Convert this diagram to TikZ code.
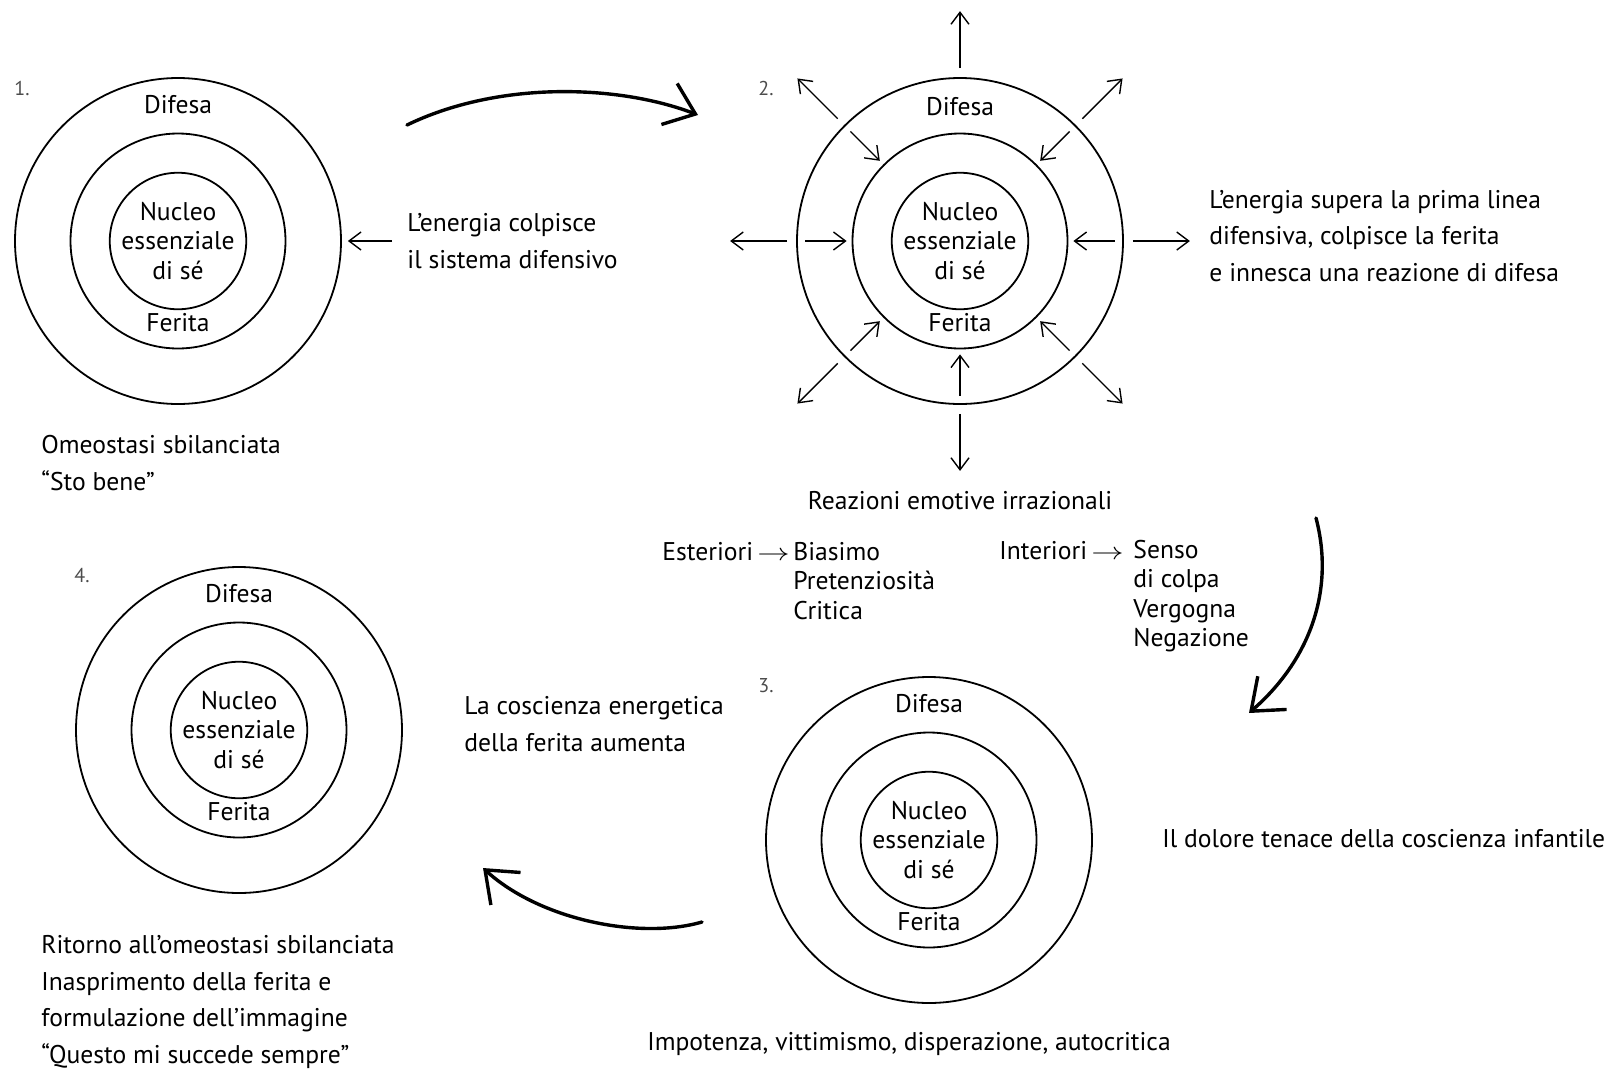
\documentclass[tikz,border=0pt]{standalone}
\usepackage{fontspec}
\usepackage{graphicx}
\setmainfont{PT Sans}
\usetikzlibrary{arrows.meta, positioning}

\begin{document}
\begin{tikzpicture}[
  x=0.5pt, y=-0.5pt,
  font=\fontsize{12.8}{18.4}\selectfont,
  ring/.style={circle, draw, line width=0.9pt, inner sep=0pt},
  outring/.style={ring, minimum size=163pt},
  midring/.style={ring, minimum size=107.5pt},
  corering/.style={ring, minimum size=59pt, align=center, font=\fontsize{12.8}{14.6}\selectfont},
  lbl/.style={inner sep=0pt},
  num/.style={inner sep=0pt, text=black!70, font=\fontsize{10}{11}\selectfont},
  txt/.style={align=left, inner sep=0pt, anchor=west},
  list/.style={txt, font=\fontsize{12.8}{14.6}\selectfont},
  arrow/.style={-{Straight Barb[length=6pt, width=9pt]}, line width=0.7pt},
  bigarrow/.style={-{Straight Barb[length=14pt, width=22pt]}, line width=1.7pt, line cap=round}
]
\useasboundingbox (0,0) rectangle (1608,1072);

% 1
\node[outring] (c1out) at (178,241) {};
\node[midring] (c1mid) at (178,241) {};
\node[corering] (c1core) at (178,241) {Nucleo\\essenziale\\di sé};
\node[lbl] (c1def) at ([yshift=68pt]c1core) {Difesa};
\node[lbl] (c1fer) at ([yshift=-41pt]c1core) {Ferita};
\node[num] (n1) at (22,88) {1.};
\node[txt] (t1) at (41,463) {Omeostasi sbilanciata\\“Sto bene”};

% 2
\node[outring] (c2out) at (960,241) {};
\node[midring] (c2mid) at (960,241) {};
\node[corering] (c2core) at (960,241) {Nucleo\\essenziale\\di sé};
\node[lbl] (c2def) at ([yshift=67pt]c2core) {Difesa};
\node[lbl] (c2fer) at ([yshift=-41pt]c2core) {Ferita};
\node[num] (n2) at (766,88) {2.};
\foreach \a in {0,45,...,315}
  \draw[arrow] ([shift={(\a:4.5pt)}]c2out.\a) -- ([shift={(\a:33pt)}]c2out.\a);
\foreach \a in {0,45,135,180,225,270,315}
  \draw[arrow] ([shift={(\a:-4.5pt)}]c2out.\a) -- ([shift={(\a:2.5pt)}]c2mid.\a);
\node[txt] (t12) at (407,241) {L’energia colpisce\\il sistema difensivo};
\node[txt] (t2) at (1209,236) {L’energia supera la prima linea\\difensiva, colpisce la ferita\\e innesca una reazione di difesa};
\node[lbl] (t2r) at (960,501) {Reazioni emotive irrazionali};
\node[txt] (ext) at (662,552) {Esteriori\,\scalebox{1.35}[1]{$\rightarrow$}};
\node[list] (extl) at (793,581) {Biasimo\\Pretenziosità\\Critica};
\node[txt] (int) at (999,551) {Interiori\,\scalebox{1.35}[1]{$\rightarrow$}};
\node[list] (intl) at (1133,596) {Senso\\di colpa\\Vergogna\\Negazione};

% 3
\node[outring] (c3out) at (929,840) {};
\node[midring] (c3mid) at (929,840) {};
\node[corering] (c3core) at (929,840) {Nucleo\\essenziale\\di sé};
\node[lbl] (c3def) at ([yshift=68pt]c3core) {Difesa};
\node[lbl] (c3fer) at ([yshift=-41pt]c3core) {Ferita};
\node[num] (n3) at (766,686) {3.};
\node[txt] (t3) at (1162,839) {Il dolore tenace della coscienza infantile};
\node[lbl] (t3b) at (909,1044) {Impotenza, vittimismo, disperazione, autocritica};
\node[txt] (t34) at (464,724) {La coscienza energetica\\della ferita aumenta};

% 4
\node[outring] (c4out) at (239,730) {};
\node[midring] (c4mid) at (239,730) {};
\node[corering] (c4core) at (239,730) {Nucleo\\essenziale\\di sé};
\node[lbl] (c4def) at ([yshift=68pt]c4core) {Difesa};
\node[lbl] (c4fer) at ([yshift=-41pt]c4core) {Ferita};
\node[num] (n4) at (82,576) {4.};
\node[txt] (t4) at (41,1002) {Ritorno all’omeostasi sbilanciata\\Inasprimento della ferita e\\formulazione dell’immagine\\“Questo mi succede sempre”};

\coordinate (a12s) at (407,125);
\coordinate (a12e) at (698,115);
\coordinate (a23s) at (1316,518);
\coordinate (a23e) at (1249,713);
\coordinate (a34s) at (702,922);
\coordinate (a34e) at (483,868);

\draw[arrow, shorten <=7.5pt, shorten >=3pt] (t12.west) -- (c1out.east);
\draw[bigarrow] (a12s) .. controls (500,80) and (620,85) .. (a12e);
\draw[bigarrow] (a23s) .. controls (1335,590) and (1310,660) .. (a23e);
\draw[bigarrow] (a34s) .. controls (640,940) and (540,920) .. (a34e);

\end{tikzpicture}
\end{document}
